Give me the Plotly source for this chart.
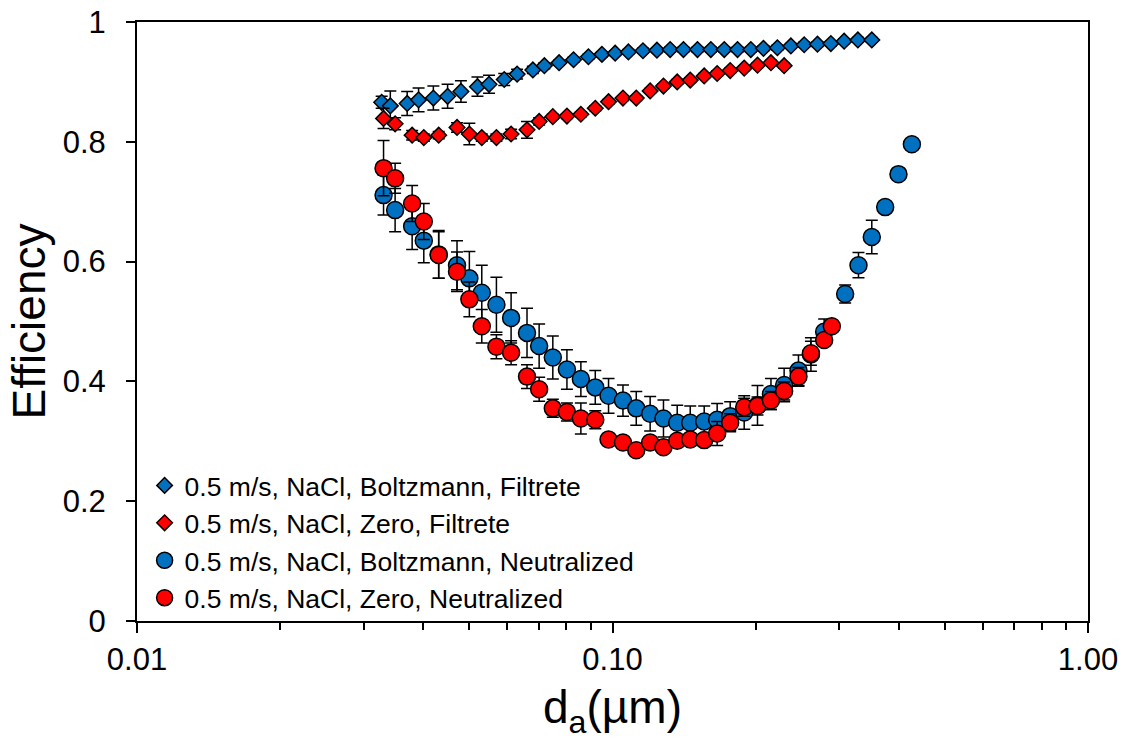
import plotly.graph_objects as go

# ---- data (particle aerodynamic diameter in µm, efficiency) ----
bd_x = [0.0327, 0.0341, 0.0370, 0.0391, 0.0420, 0.0450, 0.0480, 0.0520, 0.0550, 0.0592,
        0.0630, 0.0680, 0.0719, 0.0772, 0.0828, 0.0890, 0.0950, 0.1013, 0.1080, 0.1159,
        0.1240, 0.1322, 0.1410, 0.1509, 0.1610, 0.1718, 0.1832, 0.1954, 0.2077, 0.2222,
        0.2372, 0.2530, 0.2698, 0.2879, 0.3070, 0.3281, 0.3510]
bd_y = [0.866, 0.860, 0.864, 0.870, 0.873, 0.876, 0.884, 0.892, 0.896, 0.904,
        0.913, 0.920, 0.927, 0.932, 0.937, 0.942, 0.946, 0.948, 0.950, 0.952,
        0.953, 0.954, 0.954, 0.954, 0.954, 0.954, 0.954, 0.954, 0.956, 0.957,
        0.960, 0.962, 0.963, 0.964, 0.968, 0.970, 0.970]
bd_err = [0.010, 0.025, 0.020, 0.020, 0.020, 0.020, 0.018, 0.016, 0.015, 0.010,
          0.008, 0.006, 0.005, 0.004, 0.004, 0.004, 0.004, 0.004, 0.004, 0.004,
          0.004, 0.004, 0.004, 0.004, 0.004, 0.004, 0.004, 0.004, 0.004, 0.004,
          0.004, 0.004, 0.004, 0.004, 0.004, 0.004, 0.004]

rd_x = [0.0330, 0.0349, 0.0379, 0.0401, 0.0431, 0.0471, 0.0500, 0.0531, 0.0570, 0.0612,
        0.0661, 0.0701, 0.0749, 0.0802, 0.0858, 0.0920, 0.0981, 0.1052, 0.1122, 0.1200,
        0.1280, 0.1368, 0.1457, 0.1559, 0.1660, 0.1768, 0.1892, 0.2018, 0.2154, 0.2296]
rd_y = [0.839, 0.830, 0.811, 0.807, 0.811, 0.824, 0.813, 0.807, 0.807, 0.813,
        0.820, 0.834, 0.842, 0.843, 0.846, 0.856, 0.867, 0.873, 0.873, 0.885,
        0.893, 0.900, 0.903, 0.910, 0.914, 0.919, 0.923, 0.928, 0.932, 0.927]
rd_err = [0.017, 0.010, 0.008, 0.006, 0.006, 0.008, 0.018, 0.006, 0.006, 0.008,
          0.014, 0.006, 0.004, 0.004, 0.004, 0.004, 0.004, 0.004, 0.004, 0.004,
          0.004, 0.004, 0.004, 0.004, 0.004, 0.004, 0.004, 0.004, 0.004, 0.004]

bc_x = [0.0330, 0.0349, 0.0379, 0.0401, 0.0431, 0.0471, 0.0500, 0.0531, 0.0570, 0.0612,
        0.0661, 0.0701, 0.0749, 0.0802, 0.0858, 0.0920, 0.0981, 0.1052, 0.1122, 0.1200,
        0.1280, 0.1368, 0.1457, 0.1559, 0.1660, 0.1768, 0.1892, 0.2018, 0.2154, 0.2296,
        0.2461, 0.2614, 0.2787, 0.3085, 0.3291, 0.3510, 0.3745, 0.3994, 0.4262]
bc_y = [0.711, 0.686, 0.659, 0.635, 0.612, 0.594, 0.572, 0.548, 0.528, 0.506,
        0.481, 0.459, 0.440, 0.420, 0.404, 0.390, 0.376, 0.368, 0.355, 0.346,
        0.338, 0.331, 0.331, 0.333, 0.336, 0.342, 0.348, 0.360, 0.379, 0.394,
        0.418, 0.445, 0.483, 0.546, 0.594, 0.641, 0.691, 0.746, 0.796]
bc_err = [0.033, 0.036, 0.039, 0.037, 0.040, 0.041, 0.045, 0.046, 0.046, 0.042,
          0.041, 0.037, 0.036, 0.033, 0.029, 0.028, 0.029, 0.026, 0.028, 0.029,
          0.031, 0.029, 0.028, 0.026, 0.027, 0.024, 0.028, 0.033, 0.026, 0.028,
          0.026, 0.028, 0.021, 0.015, 0.021, 0.028, 0.0, 0.0, 0.0]

rc_x = [0.0330, 0.0349, 0.0379, 0.0401, 0.0431, 0.0471, 0.0500, 0.0531, 0.0570, 0.0612,
        0.0661, 0.0701, 0.0749, 0.0802, 0.0858, 0.0920, 0.0981, 0.1052, 0.1122, 0.1200,
        0.1280, 0.1368, 0.1457, 0.1559, 0.1660, 0.1768, 0.1892, 0.2018, 0.2154, 0.2296,
        0.2461, 0.2614, 0.2787, 0.2892]
rc_y = [0.756, 0.739, 0.697, 0.667, 0.611, 0.583, 0.537, 0.492, 0.458, 0.448,
        0.408, 0.387, 0.355, 0.349, 0.338, 0.336, 0.303, 0.298, 0.285, 0.298,
        0.290, 0.301, 0.303, 0.302, 0.313, 0.331, 0.357, 0.359, 0.368, 0.384,
        0.408, 0.447, 0.469, 0.492]
rc_err = [0.046, 0.025, 0.030, 0.030, 0.039, 0.033, 0.029, 0.028, 0.020, 0.020,
          0.020, 0.020, 0.015, 0.015, 0.026, 0.015, 0.010, 0.010, 0.010, 0.010,
          0.010, 0.010, 0.010, 0.010, 0.020, 0.015, 0.015, 0.015, 0.015, 0.015,
          0.015, 0.020, 0.010, 0.010]

names = ["0.5 m/s, NaCl, Boltzmann, Filtrete",
         "0.5 m/s, NaCl, Zero, Filtrete",
         "0.5 m/s, NaCl, Boltzmann, Neutralized",
         "0.5 m/s, NaCl, Zero, Neutralized"]

x_tickvals = [0.01, 0.1, 1.0]
x_ticktext = ["0.01", "0.10", "1.00"]
x_minor = [0.02, 0.03, 0.04, 0.05, 0.06, 0.07, 0.08, 0.09,
           0.2, 0.3, 0.4, 0.5, 0.6, 0.7, 0.8, 0.9]
y_tickvals = [0, 0.2, 0.4, 0.6, 0.8, 1.0]

BLUE = "#0070C0"
RED = "#FF0000"

fig = go.Figure()

def add(x, y, err, name, color, symbol, size, grp):
    fig.add_trace(go.Scatter(
        x=x, y=y, mode="markers", name=name, legendgroup=grp,
        marker=dict(symbol=symbol, size=size, color=color,
                    line=dict(color="black", width=1.5)),
        error_y=dict(type="data", array=err, visible=True,
                     color="black", thickness=1.5, width=6),
    ))

add(bd_x, bd_y, bd_err, names[0], BLUE, "diamond", 12, "g1")
add(rd_x, rd_y, rd_err, names[1], RED, "diamond", 12, "g2")
add(bc_x, bc_y, bc_err, names[2], BLUE, "circle", 17, "g3")
add(rc_x, rc_y, rc_err, names[3], RED, "circle", 17, "g4")

font_family = "Liberation Sans, Arial, sans-serif"

fig.update_layout(
    width=1126, height=740,
    margin=dict(l=137, r=38, t=22, b=119),
    paper_bgcolor="white", plot_bgcolor="white",
    font=dict(family=font_family, color="black"),
    showlegend=True,
    legend=dict(x=0.008, y=0.266, xanchor="left", yanchor="top",
                bgcolor="rgba(0,0,0,0)", font=dict(size=26.5),
                tracegroupgap=0, traceorder="grouped"),
    xaxis=dict(
        type="log", range=[-2, 0], automargin=False,
        tickvals=x_tickvals, ticktext=x_ticktext,
        ticks="outside", ticklen=10, tickwidth=2, tickcolor="black",
        ticklabelstandoff=0,
        showline=True, linecolor="black", linewidth=2, mirror=True,
        showgrid=False, zeroline=False,
        tickfont=dict(size=31),
        minor=dict(tickvals=x_minor, ticks="outside", ticklen=7,
                   tickwidth=1.5, tickcolor="black", showgrid=False),
        title=dict(text="d<sub>a</sub>(µm)", font=dict(size=46), standoff=28),
    ),
    yaxis=dict(
        range=[0, 1], automargin=False,
        tickvals=y_tickvals,
        ticks="outside", ticklen=9, tickwidth=2, tickcolor="black",
        ticklabelstandoff=14,
        showline=True, linecolor="black", linewidth=2, mirror=True,
        showgrid=False, zeroline=False,
        tickfont=dict(size=31),
        title=dict(text="Efficiency", font=dict(size=46), standoff=3),
    ),
)

fig.write_html("out.html",
               config={"displayModeBar": False},
               post_script="document.body.style.margin='0';document.body.style.overflow='hidden';")
